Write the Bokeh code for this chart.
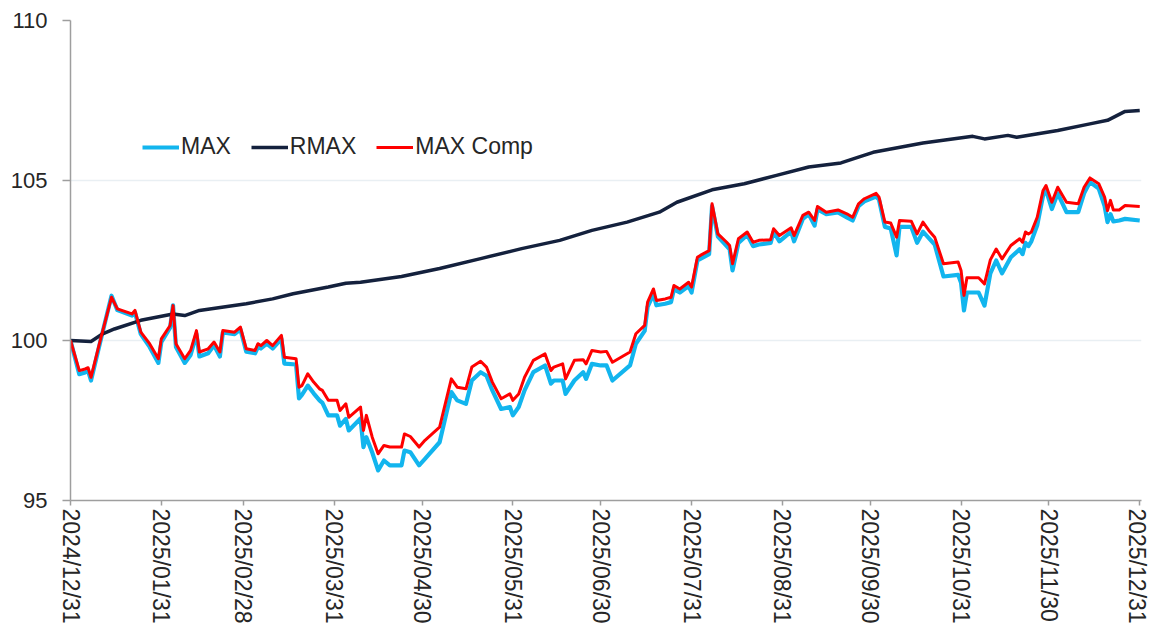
import pandas as pd
from bokeh.plotting import figure
from bokeh.models import FixedTicker, DatetimeTickFormatter, Legend, LegendItem
from bokeh.embed import file_html
from bokeh.resources import INLINE

base_date = "2024-12-31"

# days after 2024/12/31 for MAX and MAX Comp observations
days = [0, 3, 5, 6, 7, 10, 14, 16, 21, 22, 24, 27, 30, 31, 34, 35, 36, 39, 41, 43,
        44, 47, 49, 51, 52, 56, 58, 60, 63, 64, 65, 67, 69, 72, 73, 77, 78, 79, 81, 83,
        85, 86, 88, 91, 92, 94, 95, 99, 100, 101, 103, 105, 107, 109, 113, 114, 116, 119, 121, 126,
        130, 132, 135, 137, 140, 142, 144, 147, 150, 151, 153, 155, 158, 162, 164, 165, 168, 169, 172, 175,
        176, 178, 181, 183, 185, 191, 193, 196, 197, 199, 200, 203, 205, 206, 208, 211, 212, 214, 215, 218,
        219, 221, 224, 225, 226, 228, 231, 233, 235, 239, 240, 242, 246, 247, 250, 252, 254, 255, 258, 262,
        265, 267, 269, 271, 275, 276, 278, 280, 282, 283, 287, 289, 291, 293, 295, 298, 303, 304, 305, 306,
        310, 312, 314, 316, 318, 321, 324, 325, 326, 327, 328, 330, 332, 333, 335, 337, 340, 344, 346, 348,
        351, 353, 354, 355, 356, 358, 360, 365]

max_comp = [100.00, 99.06, 99.11, 99.15, 98.85, 99.95, 101.35, 100.99, 100.83, 100.94, 100.26, 99.90, 99.43, 100.05, 100.47, 101.09, 99.90, 99.43, 99.69, 100.31,
            99.64, 99.74, 99.95, 99.64, 100.31, 100.26, 100.42, 99.74, 99.69, 99.90, 99.84, 100.00, 99.84, 100.16, 99.48, 99.43, 98.54, 98.59, 98.96, 98.70,
            98.49, 98.44, 98.13, 98.13, 97.81, 98.02, 97.60, 97.92, 97.19, 97.66, 96.98, 96.46, 96.72, 96.67, 96.67, 97.08, 97.00, 96.67, 96.88, 97.29,
            98.80, 98.54, 98.49, 99.17, 99.35, 99.17, 98.70, 98.18, 98.33, 98.13, 98.33, 98.85, 99.38, 99.58, 99.06, 99.17, 99.27, 98.80, 99.38, 99.40,
            99.27, 99.69, 99.64, 99.66, 99.32, 99.64, 100.21, 100.47, 101.20, 101.61, 101.25, 101.30, 101.35, 101.72, 101.61, 101.82, 101.67, 102.60, 102.66, 102.81,
            104.27, 103.33, 103.07, 102.97, 102.40, 103.18, 103.39, 103.07, 103.13, 103.15, 103.49, 103.28, 103.52, 103.28, 103.91, 104.01, 103.75, 104.19, 104.01, 104.08,
            103.96, 103.85, 104.27, 104.43, 104.60, 104.48, 103.70, 103.67, 103.23, 103.75, 103.73, 103.33, 103.70, 103.44, 103.23, 102.40, 102.45, 102.19, 101.41, 101.96,
            101.96, 101.77, 102.52, 102.86, 102.55, 102.97, 103.18, 103.07, 103.39, 103.33, 103.39, 103.85, 104.69, 104.84, 104.32, 104.79, 104.32, 104.27, 104.79, 105.08,
            104.90, 104.48, 104.06, 104.38, 104.08, 104.08, 104.22, 104.19]

max_idx = [100.00, 98.95, 99.00, 99.05, 98.75, 99.90, 101.40, 100.95, 100.78, 100.88, 100.20, 99.80, 99.30, 99.95, 100.40, 101.10, 99.80, 99.30, 99.55, 100.20,
           99.50, 99.60, 99.85, 99.50, 100.25, 100.20, 100.35, 99.65, 99.60, 99.80, 99.75, 99.90, 99.75, 100.05, 99.28, 99.25, 98.19, 98.30, 98.59, 98.35,
           98.13, 98.05, 97.66, 97.66, 97.34, 97.55, 97.19, 97.56, 96.67, 96.98, 96.50, 95.94, 96.25, 96.10, 96.10, 96.56, 96.51, 96.10, 96.30, 96.82,
           98.39, 98.13, 98.02, 98.75, 99.01, 98.90, 98.44, 97.86, 97.92, 97.66, 97.92, 98.44, 99.01, 99.22, 98.65, 98.75, 98.75, 98.33, 98.75, 99.01,
           98.80, 99.27, 99.22, 99.22, 98.75, 99.22, 99.90, 100.30, 101.05, 101.45, 101.10, 101.15, 101.20, 101.60, 101.50, 101.70, 101.50, 102.50, 102.55, 102.70,
           104.20, 103.25, 102.95, 102.85, 102.19, 103.05, 103.30, 102.95, 103.00, 103.05, 103.40, 103.10, 103.40, 103.10, 103.80, 103.95, 103.59, 104.10, 103.95, 104.00,
           103.85, 103.75, 104.20, 104.35, 104.50, 104.40, 103.55, 103.50, 102.66, 103.55, 103.55, 103.05, 103.40, 103.20, 103.00, 102.00, 102.05, 101.80, 100.94, 101.50,
           101.50, 101.09, 102.10, 102.50, 102.10, 102.60, 102.85, 102.70, 103.05, 102.95, 103.10, 103.60, 104.53, 104.70, 104.11, 104.60, 104.01, 104.01, 104.60, 104.95,
           104.75, 104.20, 103.70, 103.95, 103.72, 103.75, 103.80, 103.75]

# RMAX observations
rmax_days = [0, 7, 11, 15, 24, 35, 39, 44, 60, 69, 76, 88, 94, 99, 113, 126, 140, 154, 167, 178,
             190, 201, 207, 219, 230, 241, 252, 263, 269, 274, 291, 308, 312, 320, 323, 337, 348, 354, 360, 365]
rmax = [100.00, 99.97, 100.21, 100.36, 100.63, 100.83, 100.78, 100.94, 101.15, 101.30, 101.46, 101.67, 101.79, 101.82, 102.00, 102.25, 102.56, 102.87, 103.13, 103.44,
        103.70, 104.01, 104.32, 104.71, 104.90, 105.16, 105.42, 105.55, 105.73, 105.88, 106.17, 106.38, 106.30, 106.41, 106.35, 106.56, 106.77, 106.88, 107.16, 107.19]

tick_labels = ["2024/12/31", "2025/01/31", "2025/02/28", "2025/03/31", "2025/04/30", "2025/05/31",
               "2025/06/30", "2025/07/31", "2025/08/31", "2025/09/30", "2025/10/31", "2025/11/30", "2025/12/31"]

base = pd.Timestamp(base_date)
dates = base + pd.to_timedelta(days, unit="D")
rdates = base + pd.to_timedelta(rmax_days, unit="D")
tick_dates = pd.to_datetime(tick_labels, format="%Y/%m/%d")
tick_ms = [int(t.value // 10**6) for t in tick_dates]

FONT = "Liberation Sans"

p = figure(frame_width=1071, frame_height=480, x_axis_type="datetime",
           x_range=(tick_dates[0], tick_dates[-1] + pd.Timedelta(days=0.6)), y_range=(95, 110),
           output_backend="svg", toolbar_location=None,
           min_border_left=70, min_border_right=8, min_border_top=20, min_border_bottom=122)
p.outline_line_color = None
p.background_fill_color = "white"

l1 = p.line(dates, max_idx, line_color="#12B5EE", line_width=4.2, line_join="round")
l2 = p.line(rdates, rmax, line_color="#14213D", line_width=3.5, line_join="round")
l3 = p.line(dates, max_comp, line_color="#FF0000", line_width=3, line_join="round")

legend = Legend(items=[LegendItem(label="MAX", renderers=[l1]),
                       LegendItem(label="RMAX", renderers=[l2]),
                       LegendItem(label="MAX Comp", renderers=[l3])],
                orientation="horizontal", location=(72, 340))
legend.label_text_font = FONT
legend.label_text_font_size = "23px"
legend.label_text_color = "#262626"
legend.glyph_width = 37
legend.glyph_height = 20
legend.label_standoff = 2
legend.spacing = 20
legend.padding = 0
legend.margin = 0
legend.border_line_color = None
legend.background_fill_alpha = 0
p.add_layout(legend, "center")

p.xgrid.grid_line_color = None
p.ygrid.grid_line_color = "#E9EFF3"
p.ygrid.grid_line_width = 1.5
p.yaxis.ticker = FixedTicker(ticks=[95, 100, 105, 110])
p.xaxis.ticker = FixedTicker(ticks=tick_ms)
p.xaxis.formatter = DatetimeTickFormatter(days="%Y/%m/%d", months="%Y/%m/%d", years="%Y/%m/%d",
                                          hours="%Y/%m/%d", minutes="%Y/%m/%d")
p.xaxis.major_label_orientation = "vertical"

for ax in (p.xaxis[0], p.yaxis[0]):
    ax.axis_line_color = "#9E9E9E"
    ax.axis_line_width = 1.5
    ax.major_tick_line_color = "#9E9E9E"
    ax.major_tick_line_width = 1.5
    ax.minor_tick_line_color = None
    ax.major_label_text_font = FONT
    ax.major_label_text_color = "#262626"
    ax.major_tick_in = 0

p.yaxis.major_label_text_font_size = "22px"
p.xaxis.major_label_text_font_size = "23px"
p.yaxis.major_tick_out = 8
p.yaxis.major_label_standoff = 15
p.xaxis.major_tick_out = 5
p.xaxis.major_label_standoff = 3

open("out.html", "w").write(file_html(p, INLINE))
